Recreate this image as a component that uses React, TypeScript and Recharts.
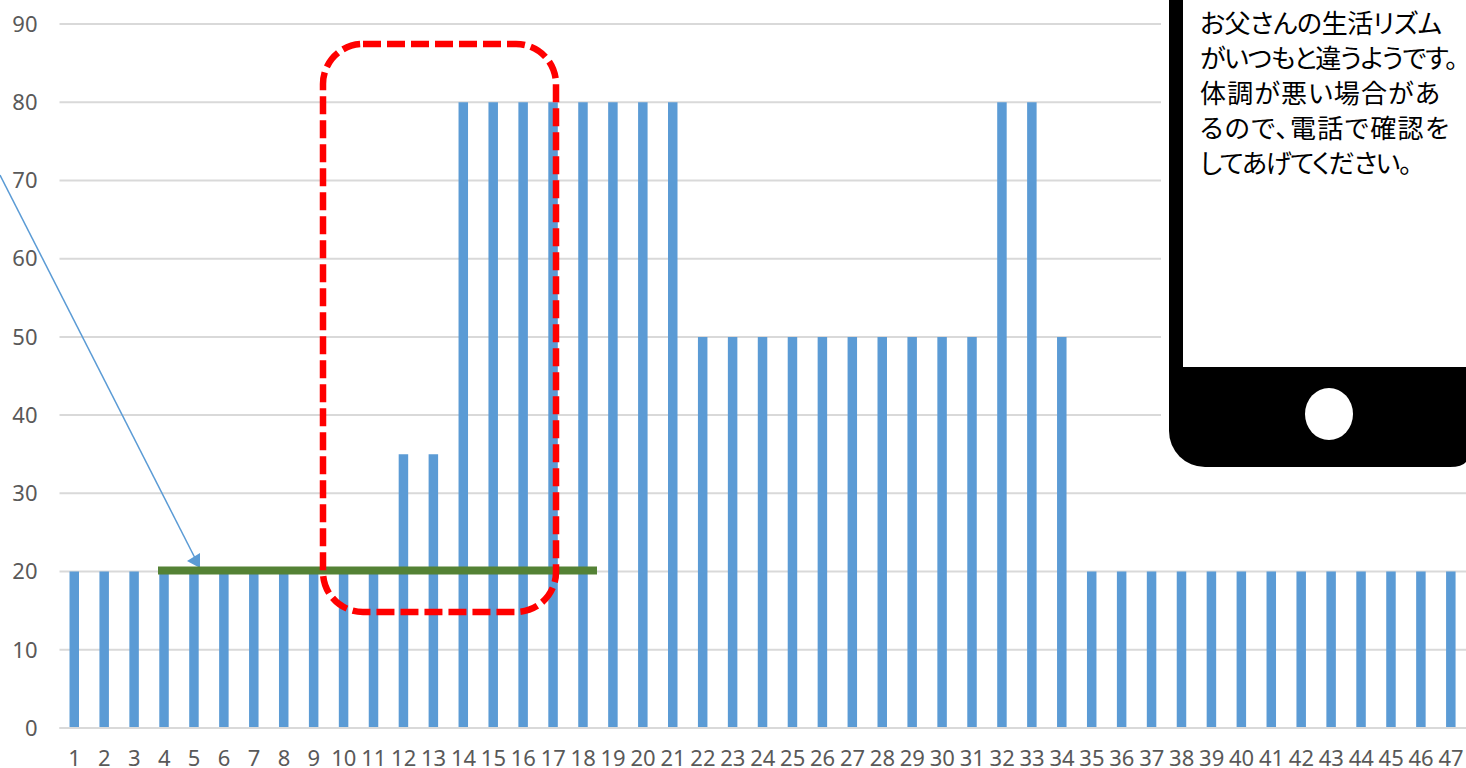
import { BarChart, Bar, XAxis, YAxis, CartesianGrid } from 'recharts'

const DAYS: number[] = [
  1, 2, 3, 4, 5, 6, 7, 8, 9, 10, 11, 12, 13, 14, 15, 16, 17, 18, 19, 20, 21, 22, 23, 24,
  25, 26, 27, 28, 29, 30, 31, 32, 33, 34, 35, 36, 37, 38, 39, 40, 41, 42, 43, 44, 45, 46, 47,
]
const VALUES: number[] = [
  20, 20, 20, 20, 20, 20, 20, 20, 20, 20, 20, 35, 35, 80, 80, 80, 80, 80, 80, 80, 80, 50, 50, 50,
  50, 50, 50, 50, 50, 50, 50, 80, 80, 50, 20, 20, 20, 20, 20, 20, 20, 20, 20, 20, 20, 20, 20,
]
const Y_TICKS: number[] = [0, 10, 20, 30, 40, 50, 60, 70, 80, 90]
const MESSAGE_LINES: string[] = [
  'お父さんの生活リズム',
  'がいつもと違うようです。',
  '体調が悪い場合があ',
  'るので、電話で確認を',
  'してあげてください。',
]
// widths the lines take up on the phone screen
const MESSAGE_WIDTHS: number[] = [242, 258, 240, 249, 212]

const chartData = DAYS.map((day, i) => ({ day, value: VALUES[i] }))

const tickStyle = { fontFamily: '"Noto Sans", sans-serif', fontSize: 22, fill: '#595959' }

export default function App() {
  return (
    <div style={{ position: 'absolute', left: 0, top: 0, width: 1466, height: 768, overflow: 'hidden', background: '#fff' }}>
      <BarChart
        width={1466}
        height={768}
        data={chartData}
        margin={{ top: 24, right: 0, bottom: 0, left: 0 }}
        barSize={9.5}
      >
        <CartesianGrid vertical={false} stroke="#d9d9d9" strokeWidth={2} />
        <XAxis
          dataKey="day"
          interval={0}
          height={40}
          tickLine={false}
          tickSize={0}
          tickMargin={22}
          axisLine={{ stroke: '#d9d9d9', strokeWidth: 2 }}
          tick={tickStyle}
        />
        <YAxis
          width={59.5}
          domain={[0, 90]}
          ticks={Y_TICKS}
          interval={0}
          tickLine={false}
          axisLine={false}
          tickSize={0}
          tickMargin={22}
          tick={tickStyle}
        />
        <Bar dataKey="value" fill="#5b9bd5" isAnimationActive={false} />
      </BarChart>

      {/* Annotations on top of the chart */}
      <svg width={1466} height={768} style={{ position: 'absolute', left: 0, top: 0 }}>
        {/* Phone */}
        <rect x={1161} y={0} width={305} height={475} fill="#fff" />
        <path d="M1169 0 H1466 V462 Q1462 467 1450 467 H1205 A36 36 0 0 1 1169 431 Z" fill="#000" />
        <rect x={1183} y={0} width={283} height={367} fill="#fff" />
        <ellipse cx={1329} cy={414} rx={24} ry={26} fill="#fff" />
        {MESSAGE_LINES.map((line, i) => (
          <text
            key={line}
            x={1200}
            y={33 + i * 35}
            fontFamily='"Noto Sans CJK JP", sans-serif'
            fontSize={26}
            textLength={MESSAGE_WIDTHS[i]}
            style={{ fontFeatureSettings: '"palt"' }}
            fill="#000"
          >
            {line}
          </text>
        ))}

        {/* Baseline and arrow */}
        <line x1={0} y1={175} x2={196} y2={560} stroke="#5b9bd5" strokeWidth={1.5} />
        <polygon points="200,553 187,561 200,568" fill="#5b9bd5" />
        <line x1={158} y1={570.5} x2={597} y2={570.5} stroke="#548235" strokeWidth={8} />

        {/* Highlight box */}
        <rect
          x={323}
          y={44}
          width={233}
          height={568}
          rx={40}
          ry={40}
          fill="none"
          stroke="#ff0000"
          strokeWidth={6.5}
          strokeDasharray="18 6"
        />
      </svg>
    </div>
  )
}
